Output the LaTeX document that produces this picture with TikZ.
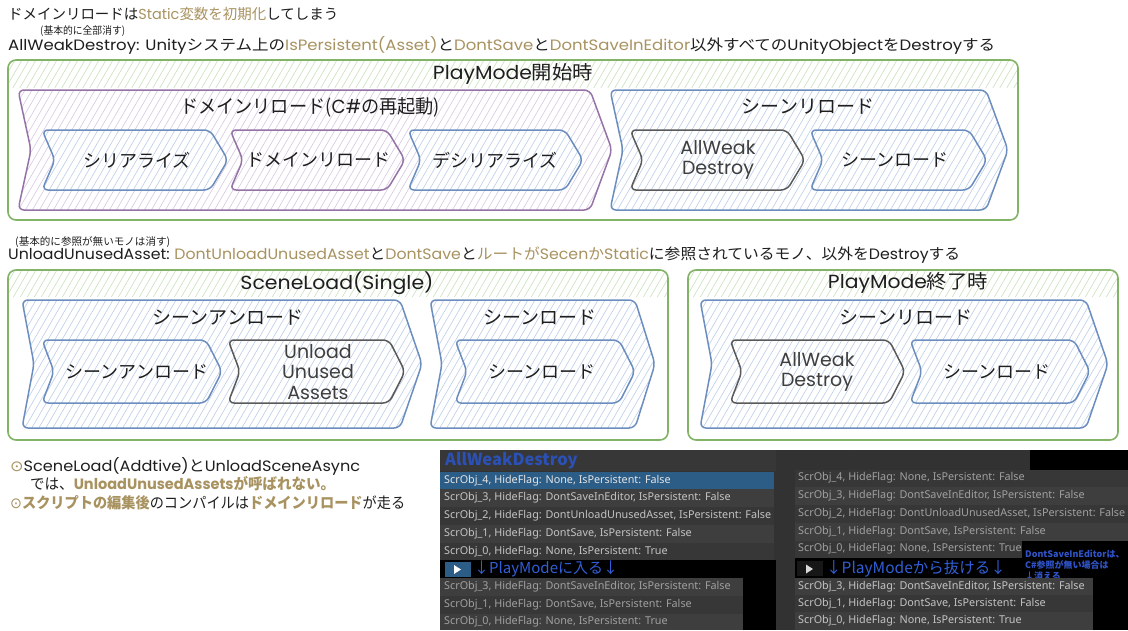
\documentclass[tikz,border=0pt]{standalone}
\usepackage{graphicx}
\usepackage{fontspec}
\setmainfont{Noto Sans CJK JP}
\newfontfamily\lf{Poppins}
\newfontfamily\uifont{Noto Sans}
\newfontfamily\symfont{DejaVu Sans}
\newcommand\latn[1]{{\lf #1}}
\newcommand\fitto[2]{\resizebox{#1}{\height}{#2}}
\definecolor{gold}{RGB}{168,146,96}
\definecolor{ink}{RGB}{30,30,30}
\definecolor{grn}{RGB}{130,179,102}
\definecolor{grnh}{RGB}{200,226,188}
\definecolor{pur}{RGB}{150,115,166}
\definecolor{purh}{RGB}{214,200,226}
\definecolor{blu}{RGB}{108,142,191}
\definecolor{bluh}{RGB}{188,206,234}
\definecolor{gry}{RGB}{90,90,90}
\definecolor{uisel}{RGB}{44,93,135}
\definecolor{uitxt}{RGB}{196,196,196}
\definecolor{uidim}{RGB}{160,160,160}
\definecolor{rowa}{RGB}{62,62,62}
\definecolor{rowb}{RGB}{55,55,55}
\definecolor{uibg}{RGB}{50,50,50}
\definecolor{notebl}{RGB}{48,84,200}
\definecolor{uiarrow}{RGB}{50,95,215}

% hatch lines rising to the right, inside the current clip
\newcommand\hatchlines[5]{% x1 y1 x2 y2 colour
  \pgfmathsetmacro\hxs{#1-0.58*(#4-#2)}%
  \pgfmathsetmacro\hxt{\hxs+7}%
  \pgfmathsetmacro\hdx{0.58*(#4-#2)}%
  \foreach \k in {\hxs,\hxt,...,#3} \draw[#5, line width=0.6pt] (\k,#4) -- ++(\hdx,{#2-#4});}

\newcommand\sshape[8]{%
  \def\shp{(#1,#2) -- ({#3-#6},#2) -- (#3,{(#2+#4)/2}) -- ({#3-#6},#4) -- (#1,#4) -- ({#1+#5},{(#2+#4)/2}) -- cycle}%
  \begin{scope}
  \fill[white, rounded corners=6pt] \shp;
  \clip[rounded corners=6pt] \shp;
  \hatchlines{#1}{#2}{#3}{#4}{#8}
  \end{scope}
  \draw[line width=1.5pt, draw=#7, rounded corners=6pt, line join=round] \shp;}

\newcommand\laneA[5]{%
  \begin{scope}
  \clip[rounded corners=8pt] (#1,#2) rectangle (#3,#4);
  \clip (#1,#2) rectangle (#3,#5);
  \hatchlines{#1}{#2}{#3}{#5}{grnh}
  \end{scope}
  \draw[grn, line width=1.6pt, rounded corners=8pt] (#1,#2) rectangle (#3,#4);}

\begin{document}
\begin{tikzpicture}[x=1pt,y=-1pt,
  hd/.style={font=\fontsize{14.5}{16}\selectfont, text=ink, inner sep=0pt},
  hdb/.style={font=\fontsize{15}{17}\selectfont, text=ink, inner sep=0pt},
  small/.style={font=\fontsize{10.5}{11}\selectfont, text=ink, inner sep=0pt},
  ttl/.style={font=\fontsize{19}{21}\selectfont, text=ink, inner sep=0pt},
  lbl/.style={font=\fontsize{18}{20}\selectfont, text=ink, inner sep=0pt, align=center},
  lblg/.style={font=\lf\fontsize{19}{20.5}\selectfont, text=gry!70!black, inner sep=0pt, align=center},
  bt/.style={font=\fontsize{15}{17}\selectfont, text=ink, inner sep=0pt, anchor=west},
  ui/.style={font=\uifont\fontsize{10.8}{12}\selectfont, text=uitxt, inner sep=0pt, anchor=west},
  uid/.style={ui, text=uidim},
  note/.style={font=\bfseries\fontsize{9}{10}\selectfont, text=notebl, inner sep=0pt, anchor=west},
]
\useasboundingbox (0,0) rectangle (1128,630);
\fill[white] (0,0) rectangle (1128,630);

% ---------- header texts ----------
\node[hd, anchor=west] (t1) at (8,14) {\fitto{330pt}{ドメインリロードは\textcolor{gold}{\latn{Static}変数を初期化}してしまう}};
\node[small, anchor=west] (t2s) at (40,31) {\fitto{85pt}{(基本的に全部消す)}};
\node[hdb, anchor=west] (t2) at (8,45) {\fitto{987pt}{\latn{AllWeakDestroy: Unity}システム上の\textcolor{gold}{\latn{IsPersistent(Asset)}}と\textcolor{gold}{\latn{DontSave}}と\textcolor{gold}{\latn{DontSaveInEditor}}以外すべての\latn{UnityObject}を\latn{Destroy}する}};

% ---------- lane 1 ----------
\laneA{8}{60}{1018}{220}{88}
\node[ttl] (l1) at (513,74) {\fitto{160pt}{\latn{PlayMode}開始時}};
\sshape{18}{90}{612}{210}{13}{22}{pur}{purh}
\node[ttl] (dr) at (310,107) {\fitto{260pt}{ドメインリロード(\latn{C\#}の再起動)}};
\sshape{42}{130}{228}{190}{13}{18}{blu}{bluh}
\node[lbl] (s1) at (137,160) {シリアライズ};
\sshape{230}{130}{405}{190}{13}{18}{pur}{purh}
\node[lbl] (s2) at (318,160) {ドメインリロード};
\sshape{408}{130}{583}{190}{13}{18}{blu}{bluh}
\node[lbl] (s3) at (495,160) {デシリアライズ};
\sshape{610}{90}{1008}{210}{13}{22}{blu}{bluh}
\node[ttl] (sr) at (808,107) {シーンリロード};
\sshape{630}{130}{805}{190}{13}{18}{gry}{bluh}
\node[lblg] (s4) at (718,160) {AllWeak\\Destroy};
\sshape{810}{130}{987}{190}{13}{18}{blu}{bluh}
\node[lbl] (s5) at (895,160) {シーンロード};

% ---------- middle header ----------
\node[small, anchor=west] (t3s) at (15,242) {\fitto{155pt}{(基本的に参照が無いモノは消す)}};
\node[hdb, anchor=west] (t3) at (8,255) {\fitto{952pt}{\latn{UnloadUnusedAsset:} \textcolor{gold}{\latn{DontUnloadUnusedAsset}}と\textcolor{gold}{\latn{DontSave}}と\textcolor{gold}{ルートが\latn{Secen}か\latn{Static}}に参照されているモノ、以外を\latn{Destroy}する}};

% ---------- lane 2 ----------
\laneA{8}{270}{668}{440}{297}
\node[ttl, font=\lf\fontsize{19}{21}\selectfont] (l2) at (337,283) {\fitto{193pt}{SceneLoad(Single)}};
\sshape{22}{300}{422}{428}{12}{22}{blu}{bluh}
\node[ttl] (su) at (228,318) {シーンアンロード};
\sshape{42}{340}{222}{403}{12}{16}{blu}{bluh}
\node[lbl] (s6) at (137,372) {シーンアンロード};
\sshape{228}{340}{405}{403}{12}{16}{gry}{bluh}
\node[lblg] (s7) at (318,372) {Unload\\Unused\\Assets};
\sshape{430}{300}{655}{428}{12}{20}{blu}{bluh}
\node[ttl] (sl) at (540,318) {シーンロード};
\sshape{455}{340}{635}{403}{12}{16}{blu}{bluh}
\node[lbl] (s8) at (542,372) {シーンロード};

% ---------- lane 3 ----------
\laneA{688}{270}{1118}{440}{297}
\node[ttl] (l3) at (908,283) {\fitto{160pt}{\latn{PlayMode}終了時}};
\sshape{700}{300}{1108}{428}{12}{22}{blu}{bluh}
\node[ttl] (sr2) at (906,318) {シーンリロード};
\sshape{730}{340}{905}{403}{12}{16}{gry}{bluh}
\node[lblg] (s9) at (817,372) {AllWeak\\Destroy};
\sshape{910}{340}{1090}{403}{12}{16}{blu}{bluh}
\node[lbl] (s10) at (997,372) {シーンロード};

% ---------- bottom notes ----------
\node[bt] (b1) at (10,466) {\fitto{350pt}{{\symfont\textcolor{gold}{⊙}}\latn{SceneLoad(Addtive)}と\latn{UnloadSceneAsync}}};
\node[bt] (b2) at (30,484) {\fitto{305pt}{では、\textcolor{gold}{\bfseries \latn{UnloadUnusedAssets}が呼ばれない。}}};
\node[bt] (b3) at (10,503) {\fitto{395pt}{{\symfont\textcolor{gold}{⊙}}\textcolor{gold}{\bfseries スクリプトの編集後}のコンパイルは\textcolor{gold}{\bfseries ドメインリロード}が走る}};

% ---------- screenshots ----------
\fill[black] (440,450) rectangle (1128,630);
% left panel
\fill[uibg] (440,450) rectangle (776,560);
\fill[rowb] (440,450) rectangle (776,471);
\node[font=\bfseries\fontsize{16.5}{18}\selectfont, text=uiarrow!85!black, inner sep=0pt, anchor=west] (pt) at (445,461) {AllWeakDestroy};
\fill[uisel] (440,472) rectangle (774,489);
\fill[rowa] (440,489) rectangle (774,507);
\fill[rowb] (440,507) rectangle (774,525);
\fill[rowa] (440,525) rectangle (774,543);
\fill[rowb] (440,543) rectangle (774,560);
\node[ui, text=white!90!black] (r1) at (444,481) {ScrObj\_4, HideFlag: None, IsPersistent: False};
\node[ui] (r2) at (444,498) {ScrObj\_3, HideFlag: DontSaveInEditor, IsPersistent: False};
\node[ui] (r3) at (444,516) {ScrObj\_2, HideFlag: DontUnloadUnusedAsset, IsPersistent: False};
\node[ui] (r4) at (444,534) {ScrObj\_1, HideFlag: DontSave, IsPersistent: False};
\node[ui] (r5) at (444,552) {ScrObj\_0, HideFlag: None, IsPersistent: True};
\fill[uisel] (445,562) rectangle (471,577);
\fill[white] (454,565) -- (454,574) -- (461,569.5) -- cycle;
\node[font=\fontsize{15}{17}\selectfont, text=uiarrow, inner sep=0pt, anchor=west] (pa) at (474,569) {↓PlayModeに入る↓};
\fill[rowa] (440,578) rectangle (743,596);
\fill[rowb] (440,596) rectangle (743,614);
\fill[rowa] (440,614) rectangle (743,630);
\node[uid] (r6) at (444,587) {ScrObj\_3, HideFlag: DontSaveInEditor, IsPersistent: False};
\node[uid] (r7) at (444,605) {ScrObj\_1, HideFlag: DontSave, IsPersistent: False};
\node[uid] (r8) at (444,622) {ScrObj\_0, HideFlag: None, IsPersistent: True};
% right panel
\fill[uibg] (776,450) rectangle (1030,630);
\draw[black!80, line width=1pt] (852,450) -- (852,470);
\fill[rowb] (795,470) rectangle (1128,487);
\fill[rowa] (795,487) rectangle (1128,505);
\fill[rowb] (795,505) rectangle (1128,523);
\fill[rowa] (795,523) rectangle (1128,541);
\fill[rowb] (795,541) rectangle (1022,558);
\fill[black] (795,558) rectangle (1030,578);
\fill[black] (1022,541) rectangle (1128,558);
\node[ui, text=uidim] (q1) at (798,478) {ScrObj\_4, HideFlag: None, IsPersistent: False};
\node[ui, text=uidim] (q2) at (798,496) {ScrObj\_3, HideFlag: DontSaveInEditor, IsPersistent: False};
\node[ui, text=uidim] (q3) at (798,514) {ScrObj\_2, HideFlag: DontUnloadUnusedAsset, IsPersistent: False};
\node[ui, text=uidim] (q4) at (798,532) {ScrObj\_1, HideFlag: DontSave, IsPersistent: False};
\node[ui, text=uidim] (q5) at (798,549) {ScrObj\_0, HideFlag: None, IsPersistent: True};
\fill[rowa!120] (797,561) rectangle (823,576);
\fill[white!85!black] (806,564.5) -- (806,573.5) -- (813,569) -- cycle;
\node[font=\fontsize{15.5}{18}\selectfont, text=uiarrow, inner sep=0pt, anchor=west] (pb) at (826,569) {↓PlayModeから抜ける↓};
\node[note] (n1) at (1025,554) {DontSaveInEditorは、};
\node[note] (n2) at (1025,565) {C\#参照が無い場合は};
\node[note] (n3) at (1025,576) {↓消える};
\fill[rowa] (795,578) rectangle (1093,595);
\fill[rowb] (795,595) rectangle (1093,612);
\fill[rowa] (795,612) rectangle (1093,630);
\node[ui] (q6) at (798,587) {ScrObj\_3, HideFlag: DontSaveInEditor, IsPersistent: False};
\node[ui] (q7) at (798,604) {ScrObj\_1, HideFlag: DontSave, IsPersistent: False};
\node[ui] (q8) at (798,621) {ScrObj\_0, HideFlag: None, IsPersistent: True};
\end{tikzpicture}
\end{document}
